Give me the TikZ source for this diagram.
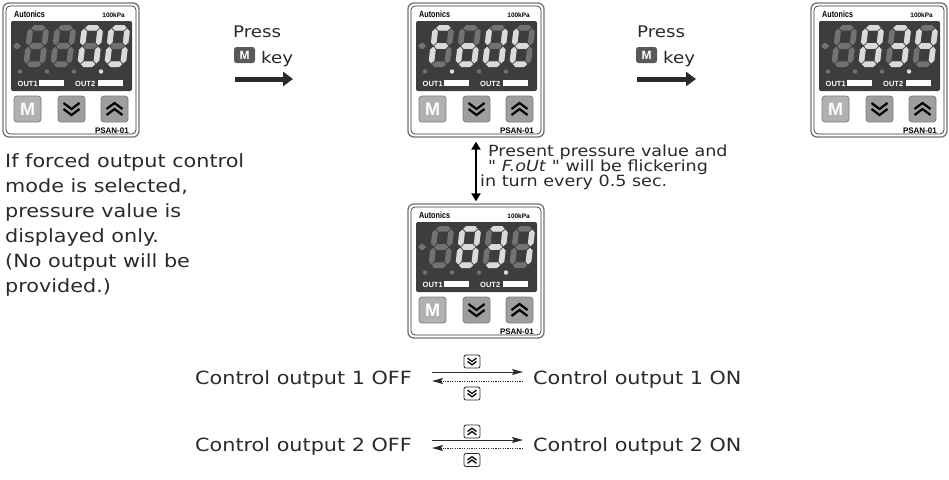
\documentclass[tikz,border=0pt]{standalone}
\usepackage{fontspec}
\setmainfont{DejaVu Sans}[FakeStretch=1.14]
\newfontfamily\notefont{DejaVu Sans}[FakeStretch=1.14,Ligatures=TeXOff]
\newfontfamily\panelfont{Liberation Sans}
\newfontfamily\narrowfont{Liberation Sans}[FakeStretch=0.8]
\usepackage{xcolor}
\usepackage{tikz}
\usetikzlibrary{arrows.meta,positioning}
\definecolor{lcdbg}{HTML}{3D3D3D}
\definecolor{segoff}{HTML}{727272}
\definecolor{segon}{HTML}{DADADA}
\definecolor{keyfill}{HTML}{9E9E9E}
\definecolor{keyedge}{HTML}{7C7C7C}
\definecolor{inkgray}{HTML}{2A2A2A}

\newcommand{\hseg}[4]{% colour, x1, x2, y
  \fill[#1] (#2,#4) -- (#2+2.8,#4+2.8) -- (#3-2.8,#4+2.8) -- (#3,#4)
    -- (#3-2.8,#4-2.8) -- (#2+2.8,#4-2.8) -- cycle;
}
\newcommand{\vseg}[4]{% colour, x, y1, y2
  \fill[#1] (#2,#3) -- (#2+2.8,#3+2.8) -- (#2+2.8,#4-2.8) -- (#2,#4)
    -- (#2-2.8,#4-2.8) -- (#2-2.8,#3+2.8) -- cycle;
}
\newcommand{\segA}[1]{\hseg{#1}{3.6}{17.9}{39.2}}
\newcommand{\segB}[1]{\vseg{#1}{18.7}{21.8}{38.4}}
\newcommand{\segC}[1]{\vseg{#1}{18.7}{3.6}{20.2}}
\newcommand{\segD}[1]{\hseg{#1}{3.6}{17.9}{2.8}}
\newcommand{\segE}[1]{\vseg{#1}{2.8}{3.6}{20.2}}
\newcommand{\segF}[1]{\vseg{#1}{2.8}{21.8}{38.4}}
\newcommand{\segG}[1]{\hseg{#1}{3.6}{17.9}{21}}
\newcommand{\segN}[1]{}

\newcommand{\drawDigit}[3]{% bottom left: x,y; lit segments
  \begin{scope}[shift={(#1,#2)},x={(1pt,0pt)},y={(0.12pt,1pt)}]
    \foreach \s in {A,B,C,D,E,F,G} {\csname seg\s\endcsname{segoff}}
    \foreach \s in {#3} {\csname seg\s\endcsname{segon}}
  \end{scope}
}

\newcommand{\drawPanel}[8]{% name; top left: x,y; four digits; lit dot
  \node[panelframe] (#1) at (#2+68,#3+67) {};
  \begin{scope}[shift={(#2,#3)}]
    \draw[panelin] (3,3) rectangle (133,131);
    \node[paneltext,anchor=base west,font=\narrowfont\bfseries\fontsize{9}{10}\selectfont] at (11,14.5) {Autonics};
    \node[paneltext,anchor=base east,font=\panelfont\bfseries\fontsize{6.5}{8}\selectfont] at (122,14.5) {100kPa};
    \fill[lcdbg,rounded corners=2pt] (8,18) rectangle (129,88);
    \hseg{segoff}{10}{18}{43}
    \drawDigit{20}{64}{#4}
    \drawDigit{47}{64}{#5}
    \drawDigit{74}{64}{#6}
    \drawDigit{101}{64}{#7}
    \foreach \i in {0,...,3} \fill[segoff] (17+27*\i,68.5) circle (2.2);
    \fill[segon] (17+27*#8,68.5) circle (2.2);
    \node[paneltext,anchor=base west,text=white,font=\panelfont\bfseries\fontsize{7.5}{8}\selectfont] at (14.5,83) {OUT1};
    \fill[white] (36,77) rectangle (61,83);
    \node[paneltext,anchor=base west,text=white,font=\panelfont\bfseries\fontsize{7.5}{8}\selectfont] at (72,83) {OUT2};
    \fill[white] (95,77) rectangle (120,83);
    \node[keybtn,fill=keyfill!80!white,text=white,font=\panelfont\bfseries\fontsize{18}{18}\selectfont] at (24.5,106) {M};
    \node[keybtn] at (68.5,106) {};
    \pic[line width=2.2pt] at (68.5,106) {chevdown};
    \node[keybtn] at (111.5,106) {};
    \pic[line width=2.2pt] at (111.5,106) {chevup};
    \node[paneltext,anchor=base east,font=\panelfont\bfseries\fontsize{8}{9}\selectfont] at (126,130) {PSAN-01};
  \end{scope}
}

\tikzset{
  chevdown/.pic={\draw (-8,-6) -- (0,0) -- (8,-6) (-8,0) -- (0,6) -- (8,0);},
  chevup/.pic={\draw (-8,6) -- (0,0) -- (8,6) (-8,0) -- (0,-6) -- (8,0);}
}

\begin{document}
\begin{tikzpicture}[x=1pt,y=-1pt,
  panelframe/.style={draw=black!55,line width=1.3pt,rounded corners=6pt,
    minimum width=136pt,minimum height=134pt,inner sep=0pt},
  panelin/.style={draw=black!80,line width=0.7pt,rounded corners=4pt},
  keybtn/.style={draw=keyedge,fill=keyfill,line width=0.8pt,rounded corners=3pt,
    minimum width=27pt,minimum height=26pt,inner sep=0pt},
  paneltext/.style={inner sep=0pt},
  bodytext/.style={inner sep=0pt,text=inkgray,font=\fontsize{18.2}{25}\selectfont},
  presstext/.style={inner sep=0pt,text=inkgray,font=\fontsize{16}{20}\selectfont},
  notetext/.style={inner sep=0pt,text=inkgray,font=\notefont\fontsize{15.4}{15}\selectfont},
  mkey/.style={fill=black!65,rounded corners=2.5pt,minimum width=21pt,
    minimum height=16pt,inner sep=0pt,text=white,
    font=\panelfont\bfseries\fontsize{12}{12}\selectfont},
  keyicon/.style={draw=inkgray,fill=white,line width=0.8pt,rounded corners=2pt,
    minimum width=16pt,minimum height=13pt,inner sep=0pt},
  pressarrow/.style={draw=inkgray,line width=5pt,-{Triangle[length=10pt,width=14pt]}},
  solidarrow/.style={draw=inkgray,line width=1pt,-{Stealth[length=11pt,width=6pt,inset=2pt]}},
  dotarrow/.style={draw=inkgray,line width=1pt,dash pattern=on 1.2pt off 1.2pt,
    -{Stealth[length=11pt,width=6pt,inset=2pt]}},
  bothways/.style={draw=black,line width=2.5pt,
    {Triangle[length=8pt,width=9pt]}-{Triangle[length=8pt,width=9pt]}}]
\useasboundingbox (0,0) rectangle (949,479);

% four displays
\drawPanel{p1}{3}{3}{N}{N}{A,B,C,D,E,F}{A,B,C,D,E,F}{3}
\drawPanel{p2}{408}{3}{A,F,G,E}{G,E,D,C}{F,E,D,C,B}{F,E,G,D}{1}
\drawPanel{p3}{811}{3}{N}{A,B,C,D,E,F,G}{A,B,G,C,D}{F,B,G,C}{3}
\drawPanel{p4}{408}{204}{N}{A,B,C,D,E,F,G}{A,B,G,C,D}{B,C}{3}

% press M key
\node[presstext,anchor=base west] (press1) at (233,37) {Press};
\node[mkey] (mkey1) at (244.5,55) {M};
\node[presstext,anchor=base west] (key1) at (261,63) {key};
\coordinate (go1) at (235,79);
\coordinate (go1end) at (293,79);
\draw[pressarrow] (go1) -- (go1end);

\node[presstext,anchor=base west] (press2) at (637,37) {Press};
\node[mkey] (mkey2) at (646.5,55) {M};
\node[presstext,anchor=base west] (key2) at (663,63) {key};
\coordinate (go2) at (637,79);
\coordinate (go2end) at (696,79);
\draw[pressarrow] (go2) -- (go2end);

% forced output note
\node[bodytext,anchor=north west,align=left] (forced) at (5,153)
  {If forced output control\\mode is selected,\\pressure value is\\displayed only.\\(No output will be\\provided.)};

% flicker
\draw[bothways] ([yshift=-4pt]p2.south) -- ([yshift=2pt]p4.north);
\node[notetext,anchor=north west,align=left] (flicker) at (488,145)
  {Present pressure value and\\" \textit{F.oUt} " will be flickering\\\hspace*{-8pt}in turn every 0.5 sec.};

% output 1
\node[bodytext,anchor=base east] (off1) at (412,384) {Control output 1 OFF};
\node[bodytext,anchor=base west] (on1) at (533,384) {Control output 1 ON};
\draw[solidarrow] ([xshift=20pt,yshift=12pt]off1.base east) -- ([xshift=-10pt,yshift=12pt]on1.base west);
\draw[dotarrow] ([xshift=-10pt,yshift=3pt]on1.base west) -- ([xshift=20pt,yshift=3pt]off1.base east);
\node[keyicon] (down1) at (472,361.5) {};
\pic[scale=0.55,line width=1.3pt] at (down1) {chevdown};
\node[keyicon] (down2) at (472,393.5) {};
\pic[scale=0.55,line width=1.3pt] at (down2) {chevdown};

% output 2
\node[bodytext,anchor=base east] (off2) at (412,451) {Control output 2 OFF};
\node[bodytext,anchor=base west] (on2) at (533,451) {Control output 2 ON};
\draw[solidarrow] ([xshift=20pt,yshift=11pt]off2.base east) -- ([xshift=-10pt,yshift=11pt]on2.base west);
\draw[dotarrow] ([xshift=-10pt,yshift=3pt]on2.base west) -- ([xshift=20pt,yshift=3pt]off2.base east);
\node[keyicon] (up1) at (472,431.5) {};
\pic[scale=0.55,line width=1.3pt] at (up1) {chevup};
\node[keyicon] (up2) at (472,460) {};
\pic[scale=0.55,line width=1.3pt] at (up2) {chevup};
\end{tikzpicture}
\end{document}
